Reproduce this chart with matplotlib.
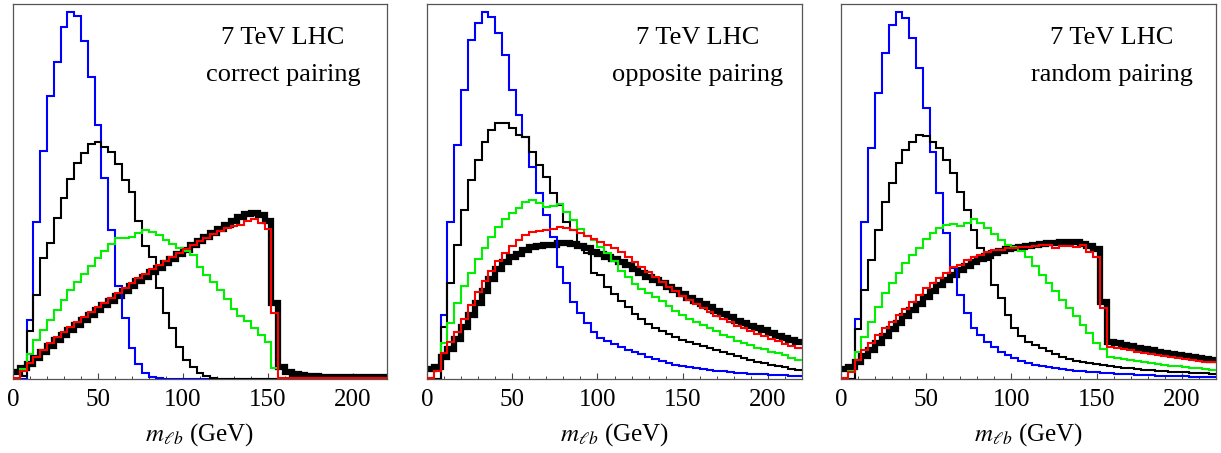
import numpy as np
import matplotlib
matplotlib.use("Agg")
import matplotlib.pyplot as plt

plt.rcParams['font.family'] = ['Liberation Serif', 'DejaVu Serif']
plt.rcParams['mathtext.fontset'] = 'stix'

# 4 GeV bins from 0 to 220 GeV
edges = np.arange(0, 224, 4)

panel_labels = ['correct pairing', 'opposite pairing', 'random pairing']

# --- correct pairing ---
blue1 = [0, 0.5, 59, 157, 228, 283, 317, 352, 367, 363, 338, 302, 254, 201, 149, 93, 61, 31, 15, 6,
         2, 1] + [0.5] * 33
black1 = [0, 3, 48, 84, 121, 136, 161, 181, 200, 216, 226, 235, 237, 232, 227, 215, 199, 187, 158, 133,
          122, 91, 66, 51, 32, 19, 12, 6, 3, 1] + [0.5] * 25
green1 = [1, 10, 25, 39, 49, 59, 69, 79, 89, 97, 105, 113, 121, 128, 135, 141, 141, 142, 146, 149,
          147, 144, 139, 135, 131, 128, 124, 112, 104, 97, 89, 80, 70, 63, 58, 51, 44, 37, 11, 1] + [0] * 15
red1 = [1, 8, 16, 22, 29, 36, 42, 47, 52, 57, 62, 67, 72, 76, 81, 86, 91, 96, 101, 105,
        110, 114, 118, 122, 126, 130, 134, 138, 141, 145, 148, 151, 153, 154, 158, 160, 156, 150, 66, 1.5] + [1] * 15
thick1 = [7, 11, 15, 21, 27, 33, 39, 44, 49, 54, 59, 64, 69, 74, 78, 83, 88, 93, 98, 102,
          107, 111, 116, 120, 125, 129, 134, 138, 142, 146, 150, 154, 158, 162, 165, 166, 164, 158, 76, 12,
          7, 5, 4, 3, 3] + [2] * 10

# --- opposite pairing ---
blue2 = [0, 0.5, 64, 157, 234, 289, 339, 356, 367, 362, 346, 324, 289, 264, 242, 212, 186, 164, 142, 112,
         96, 77, 66, 56, 47, 41, 38, 35, 32, 29, 27, 25, 22, 20, 18, 16, 14.5, 13, 12, 11,
         10, 9, 8.5, 8, 7, 6.5, 6, 5.5, 5, 5, 4.5, 4, 4, 3.5, 3.5]
black2 = [0, 0.5, 52, 96, 134, 169, 199, 219, 237, 249, 256, 256, 251, 244, 242, 227, 214, 202, 186, 174,
          157, 149, 134, 126, 106, 104, 92, 85, 78, 72, 65, 60, 55, 51, 48, 45, 42, 39, 37, 35,
          33, 31, 29, 27, 25, 23, 21, 19, 17, 16, 14, 13, 12, 10, 9]
green2 = [1, 8, 36, 56, 76, 93, 106, 120, 131, 142, 152, 160, 166, 171, 177, 179, 176, 172, 173, 175,
          167, 159, 150, 143, 139, 132, 126, 118, 108, 102, 95, 90, 86, 82, 78, 73, 68, 64, 60, 57,
          54, 51, 48, 44, 42, 38, 36, 34, 31, 30, 27, 26, 24, 21, 19]
red2 = [1, 8, 26, 37, 47, 60, 74, 87, 98, 108, 118, 126, 133, 139, 144, 147, 148, 149, 150, 152,
        151, 149, 146, 143, 140, 137, 134, 131, 127, 122, 117, 112, 107, 102, 97, 92, 88, 83, 79, 75,
        71, 67, 63, 60, 57, 53, 51, 48, 45, 43, 40, 38, 35, 33, 31]
thick2 = [10, 12, 22, 30, 40, 52, 64, 76, 88, 100, 110, 117, 122, 125, 129, 132, 133, 134, 134, 136,
          136, 135, 133, 131, 127, 125, 122, 120, 117, 114, 110, 106, 102, 99, 96, 92, 89, 85, 81, 78,
          75, 72, 68, 65, 62, 58, 56, 53, 51, 49, 46, 43, 41, 39, 37]

# --- random pairing ---
blue3 = [0, 0.5, 60, 157, 231, 286, 326, 354, 367, 361, 341, 311, 271, 227, 186, 146, 111, 84, 66, 51,
         44, 37, 32, 27, 24, 21, 18, 16, 14.5, 13, 12, 11, 10, 9, 8.5, 8, 7.5, 7, 6.5, 6,
         5.5, 5, 5, 4.5, 4, 4, 3.5, 3.5, 3, 3, 3, 2.5, 2.5, 2.5, 2]
black3 = [0, 0.5, 50, 89, 119, 149, 177, 196, 216, 229, 237, 244, 243, 237, 231, 219, 206, 187, 169, 149,
          131, 119, 94, 81, 64, 51, 43, 37, 34, 31, 28, 25, 22, 20, 18, 17, 16, 15, 14, 13,
          12, 11.5, 11, 10, 9.5, 9, 8.5, 8, 7.5, 7, 7, 6.5, 6, 6, 5.5]
green3 = [1, 8, 27, 42, 57, 72, 86, 96, 106, 116, 124, 131, 140, 146, 151, 154, 155, 153, 156, 160,
          156, 151, 145, 139, 134, 132, 128, 122, 113, 104, 96, 88, 79, 71, 63, 54, 46, 36, 30, 22,
          21, 20, 19, 18, 17, 16, 15, 14, 13, 13, 12, 11, 11, 10, 9]
red3 = [1, 7, 19, 29, 36, 44, 51, 57, 64, 70, 77, 84, 91, 96, 101, 106, 112, 114, 119, 122,
        124, 127, 129, 129, 131, 131, 132, 132, 133, 134, 134, 131, 133, 133, 132, 134, 127, 122, 71, 32,
        31, 30, 29, 27, 26, 25, 24, 23, 22, 21, 20, 19, 18, 17, 17]
thick3 = [10, 12, 17, 23, 29, 36, 43, 50, 56, 63, 69, 75, 82, 88, 94, 99, 104, 109, 113, 117,
          120, 123, 126, 128, 130, 131, 132, 133, 134, 135, 136, 136, 137, 137, 137, 135, 133, 130, 77, 37,
          36, 34, 33, 31, 30, 29, 27, 26, 25, 24, 23, 22, 21, 20, 19]

panels = [
    (thick1, blue1, black1, green1, red1),
    (thick2, blue2, black2, green2, red2),
    (thick3, blue3, black3, green3, red3),
]

fig = plt.figure(figsize=(12.21, 4.53), dpi=100)
lefts = [13, 427, 841]
widths = [374, 375, 375]

for i, (thick, blue, black, green, red) in enumerate(panels):
    ax = fig.add_axes([lefts[i] / 1221, 1 - 379 / 453, widths[i] / 1221, 375 / 453])
    ax.stairs(thick, edges, baseline=None, color='black', lw=4.5, joinstyle='miter', zorder=2)
    ax.stairs(blue, edges, baseline=None, color='#0000ff', lw=1.5, zorder=3)
    ax.stairs(black, edges, baseline=None, color='black', lw=1.5, zorder=3)
    ax.stairs(green, edges, baseline=None, color='#00f000', lw=1.5, zorder=3)
    ax.stairs(red, edges, baseline=None, color='#ff0000', lw=1.5, zorder=4)

    ax.set_xlim(0, 220)
    ax.set_ylim(0, 375)
    ax.set_xticks([0, 50, 100, 150, 200])
    ax.set_xticks(np.arange(0, 221, 10), minor=True)
    ax.set_yticks([])
    ax.tick_params(axis='x', which='both', direction='in', top=False, labelsize=18, pad=7,
                   color='#444444')
    ax.tick_params(axis='x', which='major', length=4, width=0.8)
    ax.tick_params(axis='x', which='minor', length=2.5, width=0.7)
    for sp in ax.spines.values():
        sp.set_color('#555555')
        sp.set_linewidth(0.9)

    ax.text(0.722, 0.893, '7 TeV LHC', transform=ax.transAxes, ha='center', va='baseline', fontsize=19)
    ax.text(0.722, 0.795, panel_labels[i], transform=ax.transAxes, ha='center', va='baseline', fontsize=19)
    ax.text(0.5, -0.163, r'$m_{\ell b}$ (GeV)', transform=ax.transAxes, ha='center', va='baseline',
            fontsize=18)

fig.savefig('out.png', dpi=100)
